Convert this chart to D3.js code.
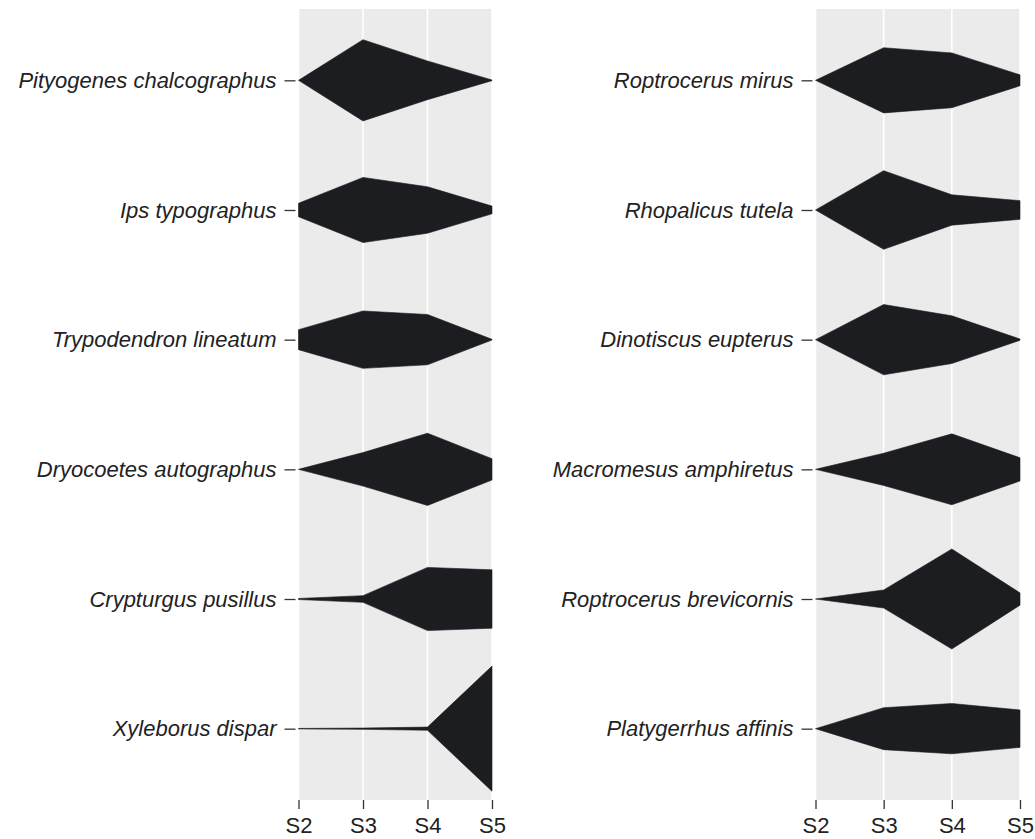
<!DOCTYPE html>
<html>
<head>
<meta charset="utf-8">
<script src="https://cdn.jsdelivr.net/npm/d3@7"></script>
<style>
  html, body { margin: 0; padding: 0; background: #ffffff; }
  svg { display: block; }
</style>
</head>
<body>
<svg id="chart" width="1035" height="839"></svg>
<script>
// ---------- data ----------
const stages = ["S2", "S3", "S4", "S5"];

const leftSpecies = [
  "Pityogenes chalcographus",
  "Ips typographus",
  "Trypodendron lineatum",
  "Dryocoetes autographus",
  "Crypturgus pusillus",
  "Xyleborus dispar"
];
// proportion of individuals per stage (S2..S5)
const leftValues = [
  [0.000, 0.630, 0.300, 0.005],
  [0.105, 0.505, 0.360, 0.060],
  [0.155, 0.445, 0.390, 0.005],
  [0.000, 0.260, 0.560, 0.165],
  [0.008, 0.052, 0.490, 0.452],
  [0.004, 0.010, 0.025, 0.970]
];

const rightSpecies = [
  "Roptrocerus mirus",
  "Rhopalicus tutela",
  "Dinotiscus eupterus",
  "Macromesus amphiretus",
  "Roptrocerus brevicornis",
  "Platygerrhus affinis"
];
const rightValues = [
  [0.000, 0.505, 0.425, 0.085],
  [0.000, 0.610, 0.235, 0.145],
  [0.000, 0.545, 0.370, 0.010],
  [0.000, 0.250, 0.550, 0.180],
  [0.000, 0.140, 0.775, 0.095],
  [0.000, 0.325, 0.390, 0.290]
];

// ---------- drawing ----------
const svg = d3.select("#chart");
const panelTop = 9, panelBottom = 800;
const fontFamily = "'Liberation Sans', Arial, Helvetica, sans-serif";

const halfWidth = d3.scaleLinear().domain([0, 1]).range([0, 64.5]);

function drawPanel(species, values, x0, x1) {
  const g = svg.append("g");
  const x = d3.scalePoint().domain(stages).range([x0, x1]);
  const y = d3.scalePoint().domain(species).range([panelTop, panelBottom]).padding(0.55);

  // background
  g.append("rect")
    .attr("x", x0).attr("y", panelTop)
    .attr("width", x1 - x0).attr("height", panelBottom - panelTop)
    .attr("fill", "#ebebec");

  // vertical grid lines
  g.selectAll("line.grid").data(stages).enter().append("line")
    .attr("class", "grid")
    .attr("x1", d => x(d)).attr("x2", d => x(d))
    .attr("y1", panelTop).attr("y2", panelBottom)
    .attr("stroke", "#ffffff").attr("stroke-width", 1.6);

  // violin-like shapes
  species.forEach((sp, i) => {
    const cy = y(sp);
    const pts = stages.map((s, j) => ({ s: s, v: values[i][j] }));
    const area = d3.area()
      .x(d => x(d.s))
      .y0(d => cy - halfWidth(d.v))
      .y1(d => cy + halfWidth(d.v))
      .curve(d3.curveLinear);
    g.append("path")
      .datum(pts)
      .attr("d", area)
      .attr("fill", "#1c1d20")
      .attr("stroke", "#1c1d20")
      .attr("stroke-width", 0.6)
      .attr("stroke-linejoin", "miter");
  });

  // bottom axis
  const xAxis = d3.axisBottom(x).tickSize(9).tickPadding(5);
  const ax = g.append("g").attr("transform", `translate(0,${panelBottom})`).call(xAxis);
  ax.select(".domain").remove();
  ax.selectAll(".tick line").attr("stroke", "#333333").attr("stroke-width", 1.3);
  ax.selectAll(".tick text")
    .attr("font-family", fontFamily).attr("font-size", 22)
    .attr("fill", "#222222").attr("dy", "0.86em");

  // left axis (species)
  const yAxis = d3.axisLeft(y).tickSize(11).tickPadding(8);
  const ay = g.append("g").attr("transform", `translate(${x0 - 3},0)`).call(yAxis);
  ay.select(".domain").remove();
  ay.selectAll(".tick line").attr("stroke", "#333333").attr("stroke-width", 1.3);
  ay.selectAll(".tick text")
    .attr("font-family", fontFamily).attr("font-size", 22)
    .attr("font-style", "italic").attr("fill", "#222222");
}

drawPanel(leftSpecies, leftValues, 298.5, 492);
drawPanel(rightSpecies, rightValues, 815.5, 1020);
</script>
</body>
</html>
